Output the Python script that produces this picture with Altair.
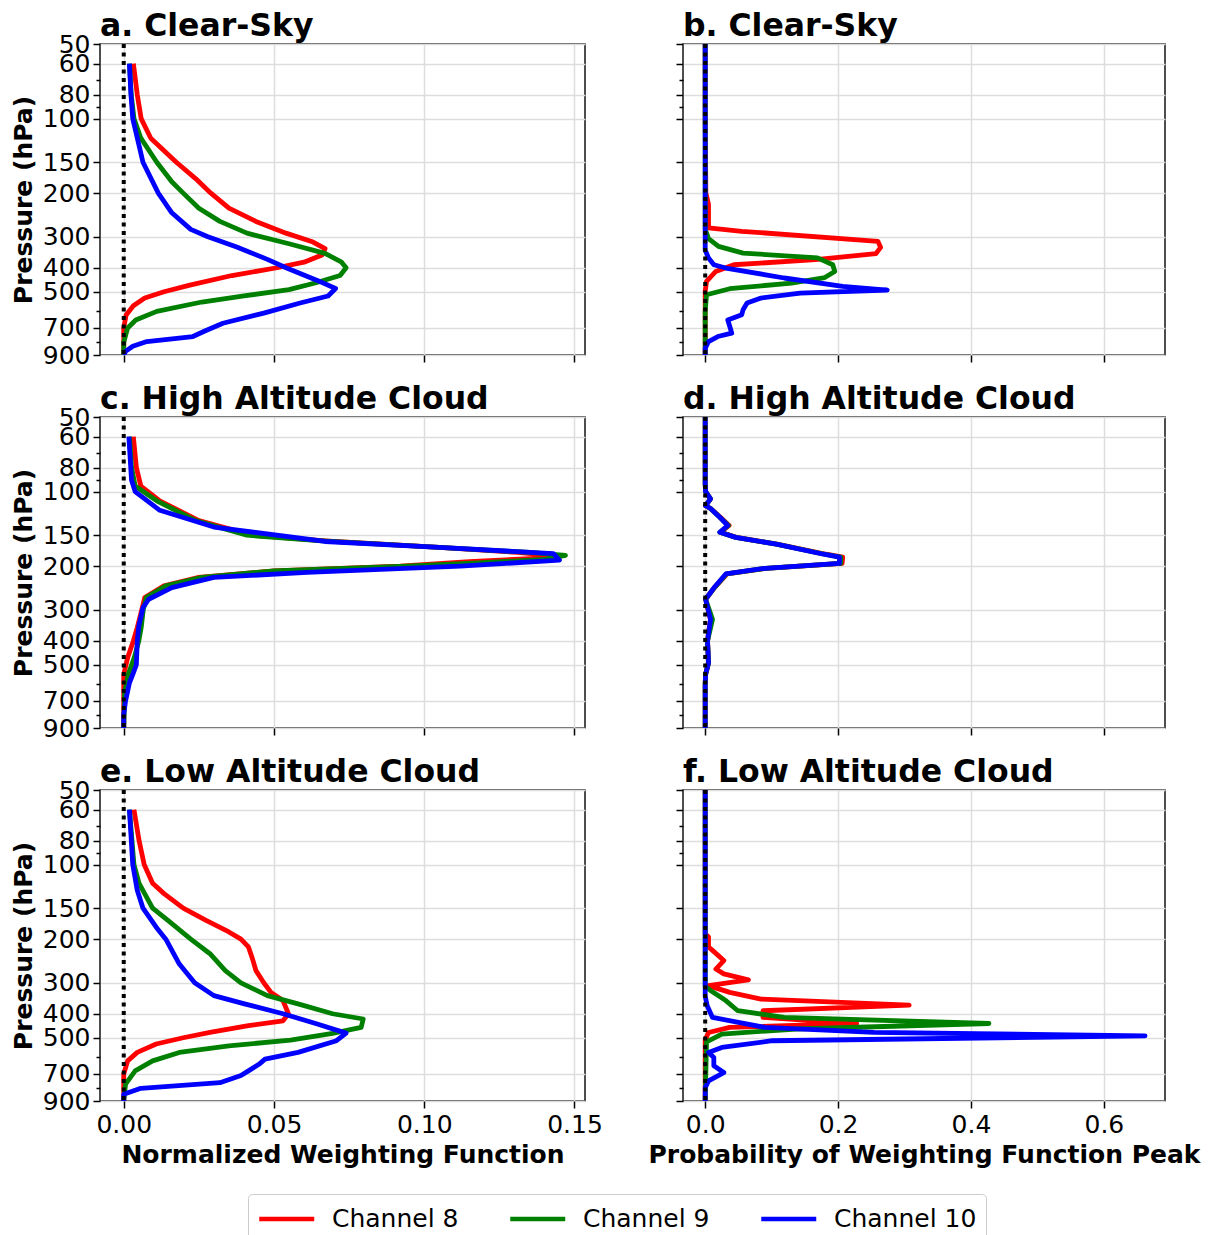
import altair as alt
import pandas as pd

CHANNELS = ["Channel 8", "Channel 9", "Channel 10"]
COLORS = ["#ff0000", "#008000", "#0000ff"]

Y_MAJOR = [50, 60, 80, 100, 150, 200, 300, 400, 500, 700, 900]
Y_MINOR = [70, 90, 600, 800]

# ---------- panel a : clear-sky weighting functions ----------
a_p8 = [60, 80, 100, 120, 150, 175, 200, 230, 260, 290, 315, 335, 355, 380, 400, 430, 470, 500, 530, 570, 620, 700, 800, 900]
a_w8 = [0.0032, 0.0045, 0.0058, 0.009, 0.0175, 0.024, 0.029, 0.035, 0.044, 0.054, 0.063, 0.067, 0.066, 0.060, 0.051, 0.036, 0.022, 0.0134, 0.007, 0.0032, 0.0008, 0.0, 0.0, 0.0]
a_p9 = [60, 80, 100, 120, 150, 180, 200, 230, 260, 290, 320, 350, 380, 400, 430, 460, 490, 520, 550, 600, 650, 700, 800, 900]
a_w9 = [0.0019, 0.0025, 0.0034, 0.0057, 0.011, 0.016, 0.0198, 0.025, 0.032, 0.041, 0.055, 0.067, 0.0725, 0.074, 0.072, 0.064, 0.055, 0.040, 0.026, 0.011, 0.004, 0.0013, 0.0, 0.0]
a_p10 = [60, 80, 100, 150, 200, 240, 280, 300, 330, 370, 400, 450, 485, 520, 555, 610, 670, 720, 758, 794, 830, 870, 900]
a_w10 = [0.0019, 0.0024, 0.003, 0.0064, 0.0115, 0.016, 0.0223, 0.028, 0.0376, 0.0478, 0.054, 0.0644, 0.0705, 0.068, 0.0587, 0.0466, 0.033, 0.027, 0.023, 0.0077, 0.003, 0.0006, 0.0]

# ---------- panel b : clear-sky peak probability ----------
b_p8 = [50, 100, 200, 222, 276, 285, 313, 331, 351, 371, 389, 414, 454, 498, 600, 900]
b_w8 = [0, 0, 0.001, 0.005, 0.005, 0.055, 0.26, 0.264, 0.257, 0.166, 0.043, 0.016, 0.002, 0, 0, 0]
b_p9 = [50, 280, 305, 328, 349, 365, 389, 414, 438, 461, 486, 514, 600, 900]
b_w9 = [0, 0, 0.005, 0.02, 0.057, 0.169, 0.192, 0.195, 0.18, 0.13, 0.037, 0.002, 0, 0]
b_p10 = [50, 340, 365, 389, 401, 440, 476, 492, 506, 530, 555, 591, 619, 650, 691, 735, 758, 794, 846, 900]
b_w10 = [0, 0, 0.005, 0.013, 0.031, 0.119, 0.207, 0.274, 0.143, 0.084, 0.063, 0.057, 0.055, 0.034, 0.037, 0.04, 0.019, 0.005, 0, 0]

# ---------- panel c : high cloud weighting functions ----------
c_p8 = [60, 80, 95, 109, 131, 150, 158, 168, 176, 181, 186, 192, 200, 209, 222, 240, 268, 300, 354, 401, 468, 547, 700, 900]
c_w8 = [0.0032, 0.0042, 0.0057, 0.012, 0.025, 0.043, 0.067, 0.105, 0.131, 0.142, 0.137, 0.115, 0.092, 0.05, 0.025, 0.0134, 0.007, 0.006, 0.0045, 0.0032, 0.0013, 0.0, 0.0, 0.0]
c_p9 = [60, 80, 95, 109, 131, 150, 158, 168, 176, 181, 188, 194, 200, 209, 222, 240, 268, 300, 354, 401, 468, 547, 650, 900]
c_w9 = [0.0019, 0.0026, 0.0038, 0.011, 0.024, 0.041, 0.066, 0.105, 0.135, 0.147, 0.14, 0.118, 0.094, 0.05, 0.026, 0.014, 0.0075, 0.0065, 0.0058, 0.005, 0.0035, 0.0015, 0.0003, 0.0]
c_p10 = [60, 90, 100, 119, 139, 159, 168, 178, 189, 200, 212, 222, 244, 272, 294, 350, 400, 500, 539, 591, 700, 794, 900]
c_w10 = [0.0017, 0.0026, 0.0038, 0.012, 0.03, 0.067, 0.105, 0.143, 0.145, 0.112, 0.061, 0.03, 0.016, 0.0083, 0.0064, 0.005, 0.0045, 0.0042, 0.0032, 0.0019, 0.0006, 0.0, 0.0]

# ---------- panel d : high cloud peak probability ----------
d_p = [50, 93, 100, 107, 114, 117, 127, 137, 146, 153, 163, 179, 184, 195, 204, 215, 244, 272, 328, 401, 491, 547, 600, 900]
d_w8 = [0, 0, 0.0006, 0.008, 0.0006, 0.008, 0.023, 0.036, 0.023, 0.047, 0.108, 0.182, 0.207, 0.206, 0.092, 0.033, 0.014, 0.0006, 0.008, 0.0035, 0.005, 0.0006, 0, 0]
d_w9 = [0, 0, 0.0006, 0.008, 0.0006, 0.008, 0.022, 0.035, 0.022, 0.046, 0.107, 0.180, 0.204, 0.204, 0.091, 0.032, 0.014, 0.0006, 0.011, 0.0035, 0.005, 0.0006, 0, 0]
d_w10 = [0, 0, 0.0006, 0.008, 0.0006, 0.008, 0.022, 0.034, 0.022, 0.046, 0.107, 0.178, 0.202, 0.202, 0.09, 0.031, 0.0135, 0.0006, 0.008, 0.0035, 0.005, 0.0006, 0, 0]

# ---------- panel e : low cloud weighting functions ----------
e_p8 = [60, 80, 100, 119, 131, 150, 168, 187, 200, 215, 237, 268, 300, 328, 354, 400, 427, 447, 476, 500, 530, 573, 620, 700, 900]
e_w8 = [0.0034, 0.0051, 0.0068, 0.0096, 0.0134, 0.0198, 0.0274, 0.035, 0.039, 0.0415, 0.0427, 0.044, 0.0466, 0.049, 0.053, 0.0548, 0.053, 0.0415, 0.0287, 0.0198, 0.0108, 0.0045, 0.0013, 0.0, 0.0]
e_p9 = [60, 100, 119, 150, 168, 200, 229, 268, 300, 338, 365, 400, 420, 454, 480, 511, 539, 573, 620, 680, 770, 900]
e_w9 = [0.0019, 0.0034, 0.0051, 0.0096, 0.0147, 0.0223, 0.0287, 0.0338, 0.039, 0.0478, 0.058, 0.0695, 0.0797, 0.079, 0.0695, 0.0555, 0.035, 0.0185, 0.0096, 0.0038, 0.0006, 0.0]
e_p10 = [60, 100, 127, 150, 179, 200, 252, 300, 338, 365, 400, 440, 479, 514, 573, 610, 640, 680, 710, 759, 800, 846, 900]
e_w10 = [0.0019, 0.003, 0.0045, 0.0064, 0.0108, 0.014, 0.0185, 0.0236, 0.03, 0.0402, 0.053, 0.0644, 0.074, 0.0708, 0.058, 0.047, 0.045, 0.0415, 0.039, 0.032, 0.0057, 0.0, 0.0]

# ---------- panel f : low cloud peak probability ----------
f_p8 = [50, 190, 196, 215, 222, 244, 264, 276, 292, 308, 328, 349, 369, 389, 414, 438, 454, 476, 510, 900]
f_w8 = [0, 0, 0.005, 0.005, 0.011, 0.028, 0.016, 0.028, 0.065, 0.005, 0.037, 0.084, 0.307, 0.087, 0.087, 0.228, 0.037, 0.005, 0, 0]
f_p9 = [50, 310, 322, 354, 389, 414, 438, 461, 483, 519, 900]
f_w9 = [0, 0, 0.008, 0.031, 0.049, 0.119, 0.427, 0.137, 0.025, 0.002, 0]
f_p10 = [50, 340, 371, 414, 454, 476, 491, 514, 547, 573, 601, 649, 691, 747, 795, 900]
f_w10 = [0, 0, 0.003, 0.011, 0.09, 0.254, 0.662, 0.101, 0.025, 0.005, 0.013, 0.013, 0.028, 0.005, 0, 0]

LEFT_TICKS = [0.0, 0.05, 0.10, 0.15]
RIGHT_TICKS = [0.0, 0.2, 0.4, 0.6]
LEFT_DOMAIN = [-0.0079, 0.1535]
RIGHT_DOMAIN = [-0.0334, 0.692]

MINOR_TEST = "indexof([70, 90, 600, 800], datum.value) >= 0"

color_enc = alt.Color(
    "channel:N",
    scale=alt.Scale(domain=CHANNELS, range=COLORS),
    legend=alt.Legend(
        title=None, orient="none", legendX=148, legendY=1150,
        direction="horizontal", symbolType="M-1,0H3", symbolSize=756,
        symbolStrokeWidth=4.5, labelFontSize=25, labelFont="DejaVu Sans",
        labelColor="black", labelOffset=43, columnPadding=42, padding=9,
        gridAlign="none",
        strokeColor="#cccccc", cornerRadius=4, fillColor="white", labelLimit=300,
    ),
)


def panel(title, series, left, bottom):
    ticks = LEFT_TICKS if left else RIGHT_TICKS
    xaxis_kw = dict(values=ticks, format=".2f" if left else ".1f", labels=bottom,
                    grid=True, domain=False, tickSize=7, labelFlush=False, labelPadding=4)
    if bottom:
        xaxis_kw["title"] = "Normalized Weighting Function" if left else "Probability of Weighting Function Peak"
        xaxis_kw["titlePadding"] = 5
    else:
        xaxis_kw["title"] = None
    xaxis = alt.Axis(**xaxis_kw)
    yaxis_kw = dict(
        values=Y_MAJOR + Y_MINOR, format="d", labels=left, grid=True, domain=False,
        labelExpr=f"{MINOR_TEST} ? '' : datum.label",
        gridOpacity={"condition": {"test": MINOR_TEST, "value": 0}, "value": 1},
        tickSize={"condition": {"test": MINOR_TEST, "value": 4}, "value": 7},
        labelOverlap=False, labelFlush=False, labelPadding=3,
    )
    if left:
        yaxis_kw["title"] = "Pressure (hPa)"
        yaxis_kw["titlePadding"] = 6
    else:
        yaxis_kw["title"] = None
    yaxis = alt.Axis(**yaxis_kw)
    xscale = alt.Scale(domain=LEFT_DOMAIN if left else RIGHT_DOMAIN, nice=False, zero=False)
    yscale = alt.Scale(type="log", domain=[50, 900], reverse=True, nice=False)

    layers = []
    for ch, (ps, ws) in zip(CHANNELS, series):
        df = pd.DataFrame({"p": ps, "w": ws, "channel": ch, "i": list(range(len(ps)))})
        layers.append(
            alt.Chart(df).mark_line(strokeWidth=4.8, strokeJoin="round", clip=True).encode(
                x=alt.X("w:Q", scale=xscale, axis=xaxis),
                y=alt.Y("p:Q", scale=yscale, axis=yaxis),
                color=color_enc,
                order=alt.Order("i:Q"),
            )
        )
    zero = pd.DataFrame({"w": [0.0]})
    layers.append(
        alt.Chart(zero).mark_rule(color="black", strokeWidth=4, strokeDash=[4, 4.5]).encode(
            x=alt.X("w:Q", scale=xscale, axis=xaxis)
        )
    )
    head = pd.DataFrame({"t": [title]})
    layers.append(
        alt.Chart(head).mark_text(
            align="left", baseline="alphabetic", fontSize=31.5, fontWeight="bold",
            font="DejaVu Sans", color="black",
        ).encode(text="t:N", x=alt.value(0), y=alt.value(-8))
    )
    return alt.layer(*layers).properties(width=485 if left else 482, height=311)


pa = panel("a. Clear-Sky", [(a_p8, a_w8), (a_p9, a_w9), (a_p10, a_w10)], True, False)
pb = panel("b. Clear-Sky", [(b_p8, b_w8), (b_p9, b_w9), (b_p10, b_w10)], False, False)
pc = panel("c. High Altitude Cloud", [(c_p8, c_w8), (c_p9, c_w9), (c_p10, c_w10)], True, False)
pd_ = panel("d. High Altitude Cloud", [(d_p, d_w8), (d_p, d_w9), (d_p, d_w10)], False, False)
pe = panel("e. Low Altitude Cloud", [(e_p8, e_w8), (e_p9, e_w9), (e_p10, e_w10)], True, True)
pf = panel("f. Low Altitude Cloud", [(f_p8, f_w8), (f_p9, f_w9), (f_p10, f_w10)], False, True)

chart = (
    alt.concat(pa, pb, pc, pd_, pe, pf, columns=2, bounds="flush",
               spacing={"row": 62, "column": 98})
    .properties(padding={"left": 10, "top": 10, "right": 5, "bottom": 0})
    .configure(font="DejaVu Sans")
    .configure_view(stroke="#222222", strokeWidth=1.6)
    .configure_axis(
        labelFont="DejaVu Sans", labelFontSize=25, labelColor="black",
        titleFont="DejaVu Sans", titleFontSize=25, titleFontWeight="bold", titleColor="black",
        gridColor="#dddddd", gridWidth=1.5, tickColor="black", tickWidth=1.5,
    )
)

chart.save("out.html", embed_options={"renderer": "svg", "actions": False})
